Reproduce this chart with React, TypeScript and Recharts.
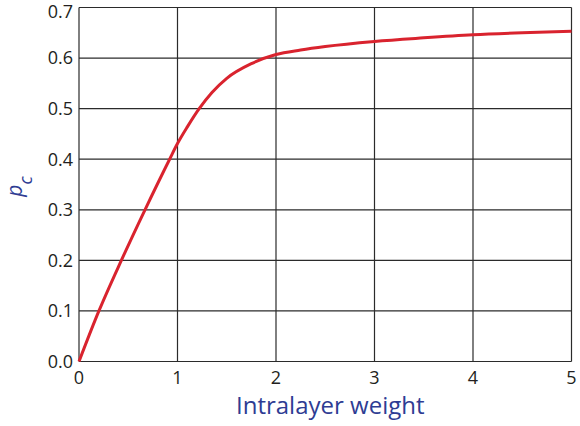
import React from 'react';
import { LineChart, Line, XAxis, YAxis, CartesianGrid, Label } from 'recharts';

// intralayer weight values and the critical fraction p_c measured at each
const weights = [0, 0.2, 0.43, 0.67, 0.92, 1.0, 1.1, 1.22, 1.35, 1.5, 1.75, 2.0, 2.25, 2.5, 3.0, 3.5, 4.0, 4.5, 5.0];
const pc = [0, 0.099, 0.2, 0.3, 0.4, 0.431, 0.464, 0.5, 0.532, 0.56, 0.589, 0.607, 0.616, 0.623, 0.633, 0.64, 0.646, 0.65, 0.653];

const xTicks = [0, 1, 2, 3, 4, 5];
const yTicks = [0, 0.1, 0.2, 0.3, 0.4, 0.5, 0.6, 0.7];

const data = weights.map((w, i) => ({ w, pc: pc[i] }));

const FONT = '"Open Sans", "Noto Sans", sans-serif';
const TITLE_BLUE = '#2e3c93';
const TICK_COLOR = '#231f20';

// y tick labels; the top one is nudged down so it stays inside the frame
const YTick = (props: any) => {
    const { x, y, payload } = props;
    const shift = payload.value >= 0.7 ? 4 : 0;
    return (
        <text
            x={x}
            y={y + shift}
            dy='0.355em'
            textAnchor='end'
            fill={TICK_COLOR}
            fontFamily={FONT}
            fontSize={18}
        >
            {payload.value.toFixed(1)}
        </text>
    );
};

const YTitle = (props: any) => {
    const { viewBox } = props;
    const bx = 22;
    const cy = viewBox.y + viewBox.height / 2 + 2;
    return (
        <text
            x={bx}
            y={cy}
            transform={`rotate(-90, ${bx}, ${cy})`}
            textAnchor='middle'
            fill={TITLE_BLUE}
            fontFamily={FONT}
            fontStyle='italic'
        >
            <tspan fontSize={21}>p</tspan>
            <tspan fontSize={18} dy={10}>c</tspan>
        </text>
    );
};

const XTitle = (props: any) => {
    const { viewBox } = props;
    return (
        <text
            x={viewBox.x + viewBox.width / 2 + 5}
            y={414}
            textAnchor='middle'
            fill={TITLE_BLUE}
            fontFamily={FONT}
            fontSize={24}
        >
            Intralayer weight
        </text>
    );
};

export default function App() {
    return (
        <div style={{ position: 'absolute', left: 0, top: 0, width: 580, height: 426, background: '#fff' }}>
            <LineChart width={580} height={426} data={data} margin={{ top: 7.5, right: 8.5, bottom: 0, left: 0 }}>
                <CartesianGrid stroke='#2b2b2b' strokeWidth={1.2} />
                <XAxis
                    dataKey='w'
                    type='number'
                    domain={[0, 5]}
                    ticks={xTicks}
                    interval={0}
                    height={64.5}
                    axisLine={false}
                    tickLine={false}
                    tickSize={0}
                    tickMargin={10}
                    tick={{ fontSize: 18, fill: TICK_COLOR, fontFamily: FONT }}
                >
                    <Label content={<XTitle />} />
                </XAxis>
                <YAxis
                    type='number'
                    domain={[0, 0.7]}
                    ticks={yTicks}
                    interval={0}
                    width={79}
                    axisLine={false}
                    tickLine={false}
                    tickSize={0}
                    tickMargin={6}
                    tick={<YTick />}
                >
                    <Label content={<YTitle />} />
                </YAxis>
                <Line
                    dataKey='pc'
                    type='monotone'
                    stroke='#d9232e'
                    strokeWidth={3}
                    dot={false}
                    isAnimationActive={false}
                />
            </LineChart>
        </div>
    );
}
